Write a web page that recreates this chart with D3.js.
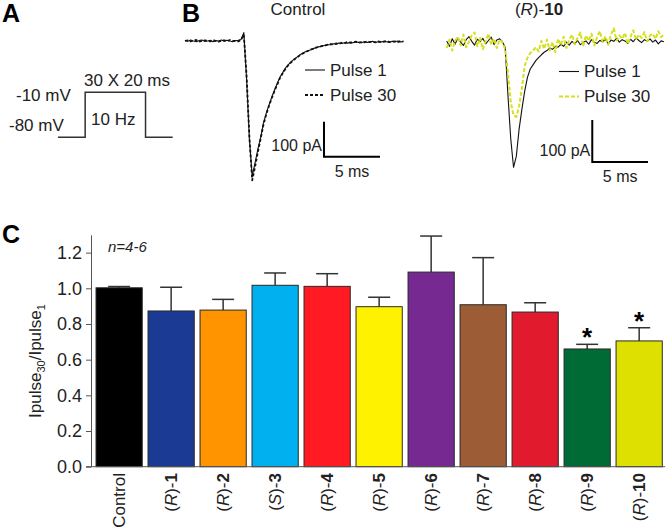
<!DOCTYPE html>
<html>
<head>
<meta charset="utf-8">
<script src="https://cdn.jsdelivr.net/npm/d3@7"></script>
<style>
  body { margin: 0; background: #fff; }
  text { font-family: "Liberation Sans", Arial, sans-serif; fill: #222; }
</style>
</head>
<body>
<div id="chart"></div>
<script>
// Bar chart data (panel C)
const categories = ["Control", "(R)-1", "(R)-2", "(S)-3", "(R)-4", "(R)-5", "(R)-6", "(R)-7", "(R)-8", "(R)-9", "(R)-10"];
const ratios = [1.003, 0.873, 0.878, 1.017, 1.011, 0.897, 1.091, 0.908, 0.867, 0.660, 0.705];
const errTops = [1.010, 1.006, 0.938, 1.086, 1.082, 0.950, 1.293, 1.172, 0.919, 0.686, 0.779];
const barColors = ["#000000", "#1b3a93", "#ff9400", "#00b0ef", "#ff1a24", "#fff200", "#762a91", "#9b5c36", "#e21a2e", "#006b35", "#dde000"];
const significant = ["(R)-9", "(R)-10"];
const yTicks = [0, 0.2, 0.4, 0.6, 0.8, 1.0, 1.2];

// Current traces (panel B), pA sampled every 0.25 ms
const sampleMs = 0.25;
const ctrlPulse1 = [2,-1,3,0,-2,1,3,-1,0,2,-2,1,0,3,-1,2,0,-2,1,2,4,
  24,-110,-280,-386,-349,-310,-276,-235,-207,-183,-160,-140,-120,-102,-89,-76,-67,-59,-52,-46,-40,-35,-31,-28,-25,-21,-19,-16,-15,-12,-11,-10,-8,-9,-6,-7,
  -5,-6,-4,-5,-3,-4,-5,-2,-4,-3,-1,-4,-2,-3,-1,-2,-4,-1,-2,0,-3,-1];
const ctrlPulse30 = [0,2,-1,1,3,-2,0,2,1,-1,3,0,-2,1,2,-1,3,1,0,-1,3,
  18,-100,-275,-398,-360,-318,-280,-240,-210,-185,-163,-142,-123,-104,-91,-78,-68,-60,-53,-47,-41,-36,-32,-28,-24,-22,-18,-17,-14,-13,-10,-9,-10,-7,-8,-5,
  -6,-3,-5,-4,-2,-5,-3,-4,-1,-3,-2,-4,-1,-3,-2,0,-3,-2,-1,-3,0,-2];
const r10Pulse1 = [5,-8,10,-3,12,2,-6,8,15,4,-5,9,3,11,-2,6,14,-4,7,10,3,
  -10,-125,-228,-296,-270,-205,-158,-115,-82,-62,-52,-42,-35,-28,-22,-18,-12,-15,-8,-10,
  -3,-8,2,-5,4,-2,6,-4,1,5,-3,8,2,-1,6,3,9,-2,7,4,11,2,8,5,-1,9,3,12,6,1,8,4,10,2,7,-2,5,3];
const r10Pulse30 = [-12,8,-18,5,15,-6,20,-10,3,18,25,-8,12,-15,6,22,-4,10,-12,8,2,
  -15,-70,-140,-172,-176,-150,-108,-55,-35,-24,-18,-10,-20,5,-14,8,-18,2,-22,10,
  -5,15,-12,8,20,-3,12,25,-8,18,5,22,-6,14,28,2,16,-4,20,35,6,18,10,24,-2,15,30,8,20,12,26,4,18,22,10,28,14,20];

// Voltage protocol (panel A)
const protoTime = [0, 9, 9, 29, 29, 38];
const protoVolt = [-80, -80, -10, -10, -80, -80];

const svg = d3.select("#chart").append("svg")
  .attr("width", 666).attr("height", 530);

// Panel letters
[["A", 2, 22], ["B", 182, 22], ["C", 2, 243]].forEach(([t, x, y]) => {
  svg.append("text").attr("x", x).attr("y", y).text(t)
    .style("font-size", "25px").style("font-weight", "bold").style("fill", "#000");
});

// ---------- Panel A ----------
const xp = d3.scaleLinear().domain([0, 38]).range([58, 172.7]);
const yp = d3.scaleLinear().domain([-80, -10]).range([137.3, 92.3]);
svg.append("path")
  .datum(protoTime.map((t, i) => [t, protoVolt[i]]))
  .attr("fill", "none").attr("stroke", "#333").attr("stroke-width", 1.5)
  .attr("d", d3.line().x(d => xp(d[0])).y(d => yp(d[1])));
const aText = [["30 X 20 ms", 84, 86], ["-10 mV", 16, 101], ["10 Hz", 91, 125], ["-80 mV", 9, 131]];
aText.forEach(([t, x, y]) => svg.append("text").attr("x", x).attr("y", y).text(t).style("font-size", "17px"));

// ---------- Panel B ----------
function tracePanel(cfg) {
  const x = d3.scaleLinear().domain([0, 19.5]).range(cfg.xr);
  const y = d3.scaleLinear().domain([-100, 0]).range([cfg.y0 + cfg.pxPer100, cfg.y0]);
  const line = d3.line().x((d, i) => x(i * sampleMs)).y(d => y(d));
  cfg.traces.forEach(tr => {
    svg.append("path").datum(tr.data)
      .attr("fill", "none").attr("stroke", tr.color)
      .attr("stroke-width", tr.width)
      .attr("stroke-dasharray", tr.dash || null)
      .attr("stroke-linejoin", "round")
      .attr("d", line);
  });
  // title
  const title = svg.append("text").attr("x", cfg.titleX).attr("y", 15)
    .attr("text-anchor", "middle").style("font-size", "17px");
  cfg.title(title);
  // legend
  cfg.traces.forEach((tr, i) => {
    const ly = cfg.legY + i * 25;
    svg.append("line").attr("x1", cfg.legX).attr("x2", cfg.legX + 20)
      .attr("y1", ly).attr("y2", ly)
      .attr("stroke", tr.color).attr("stroke-width", tr.width)
      .attr("stroke-dasharray", tr.dash || null);
    svg.append("text").attr("x", cfg.legX + 25).attr("y", ly + 5.5)
      .text(tr.label).style("font-size", "17px");
  });
  // scale bars: 100 pA, 5 ms
  const t0 = cfg.barT, v0 = cfg.barV;
  svg.append("path")
    .attr("fill", "none").attr("stroke", "#000").attr("stroke-width", 2)
    .attr("d", `M${x(t0)},${y(v0 + 100)}V${y(v0)}H${x(t0 + 5)}`);
  svg.append("text").attr("x", x(t0) - 2).attr("y", y(v0) - 6)
    .attr("text-anchor", "end").text("100 pA").style("font-size", "16px");
  svg.append("text").attr("x", x(t0 + 2.5)).attr("y", y(v0) + 20)
    .attr("text-anchor", "middle").text("5 ms").style("font-size", "16px");
}

tracePanel({
  xr: [185, 403.4], y0: 41, pxPer100: 35,
  titleX: 298, title: t => t.text("Control"),
  legX: 305, legY: 70,
  barT: 12.41, barV: -330.6,
  traces: [
    { data: ctrlPulse1, color: "#111", width: 1.1, label: "Pulse 1" },
    { data: ctrlPulse30, color: "#111", width: 1.8, dash: "3,2", label: "Pulse 30" }
  ]
});

tracePanel({
  xr: [446.7, 663.9], y0: 43, pxPer100: 42,
  titleX: 539,
  title: t => {
    t.append("tspan").text("(");
    t.append("tspan").text("R").style("font-style", "italic");
    t.append("tspan").text(")-");
    t.append("tspan").text("10").style("font-weight", "bold");
  },
  legX: 559, legY: 71.5,
  barT: 13.07, barV: -283.3,
  traces: [
    { data: r10Pulse1, color: "#111", width: 1.1, label: "Pulse 1" },
    { data: r10Pulse30, color: "#d6e01c", width: 2, dash: "4,2", label: "Pulse 30" }
  ]
});

// ---------- Panel C ----------
const x = d3.scaleBand().domain(categories).range([93.1, 665.2])
  .paddingInner(0.111).paddingOuter(0.056);
const y = d3.scaleLinear().domain([0, 1.3]).range([466.7, 234.8]);

// error bars (drawn first, bar covers lower part)
const bars = categories.map((c, i) => ({ c, v: ratios[i], e: errTops[i], col: barColors[i] }));
const eb = svg.append("g").attr("stroke", "#333").attr("stroke-width", 1.5);
bars.forEach(d => {
  const cx = x(d.c) + x.bandwidth() / 2;
  eb.append("line").attr("x1", cx).attr("x2", cx).attr("y1", y(d.v)).attr("y2", y(d.e));
  eb.append("line").attr("x1", cx - 11).attr("x2", cx + 11).attr("y1", y(d.e)).attr("y2", y(d.e));
});

svg.append("g").selectAll("rect").data(bars).join("rect")
  .attr("x", d => x(d.c)).attr("width", x.bandwidth())
  .attr("y", d => y(d.v)).attr("height", d => y(0) - y(d.v))
  .attr("fill", d => d.col).attr("stroke", "#2a2a2a").attr("stroke-width", 1);

// significance stars
svg.append("g").selectAll("text").data(bars.filter(d => significant.includes(d.c))).join("text")
  .attr("x", d => x(d.c) + x.bandwidth() / 2).attr("y", d => y(d.e) + 2)
  .attr("text-anchor", "middle").text("*")
  .style("font-size", "26px").style("font-weight", "bold").style("fill", "#000");

// y axis
const yAxis = svg.append("g").attr("transform", "translate(91,0)")
  .call(d3.axisLeft(y).tickValues(yTicks).tickFormat(d3.format(".1f")).tickSize(5).tickSizeOuter(0).tickPadding(4));
yAxis.select(".domain").attr("stroke", "#555");
yAxis.selectAll(".tick line").attr("stroke", "#555");
yAxis.selectAll(".tick text").style("font-size", "18px").style("font-family", "'Liberation Sans', Arial, sans-serif").attr("fill", "#222");

// x baseline
svg.append("line").attr("x1", 86).attr("x2", 665.2).attr("y1", y(0)).attr("y2", y(0))
  .attr("stroke", "#555").attr("stroke-width", 1);

// x labels
bars.forEach(d => {
  const cx = x(d.c) + x.bandwidth() / 2;
  const t = svg.append("text")
    .attr("transform", `translate(${cx + 6},473) rotate(-90)`)
    .attr("text-anchor", "end").style("font-size", "17px");
  const m = d.c.match(/^\((.)\)-(\d+)$/);
  if (!m) { t.text(d.c); return; }
  t.append("tspan").text("(");
  t.append("tspan").text(m[1]).style("font-style", "italic");
  t.append("tspan").text(")-");
  t.append("tspan").text(m[2]).style("font-weight", "bold");
});

// y label
const yl = svg.append("text")
  .attr("transform", "translate(41,361) rotate(-90)")
  .attr("text-anchor", "middle").style("font-size", "17px");
yl.append("tspan").text("Ipulse");
yl.append("tspan").text("30").attr("dy", 4).style("font-size", "11px");
yl.append("tspan").text("/Ipulse").attr("dy", -4);
yl.append("tspan").text("1").attr("dy", 4).style("font-size", "11px");

// n annotation
svg.append("text").attr("x", 108).attr("y", 252).text("n=4-6")
  .style("font-size", "15px").style("font-style", "italic");
</script>
</body>
</html>
